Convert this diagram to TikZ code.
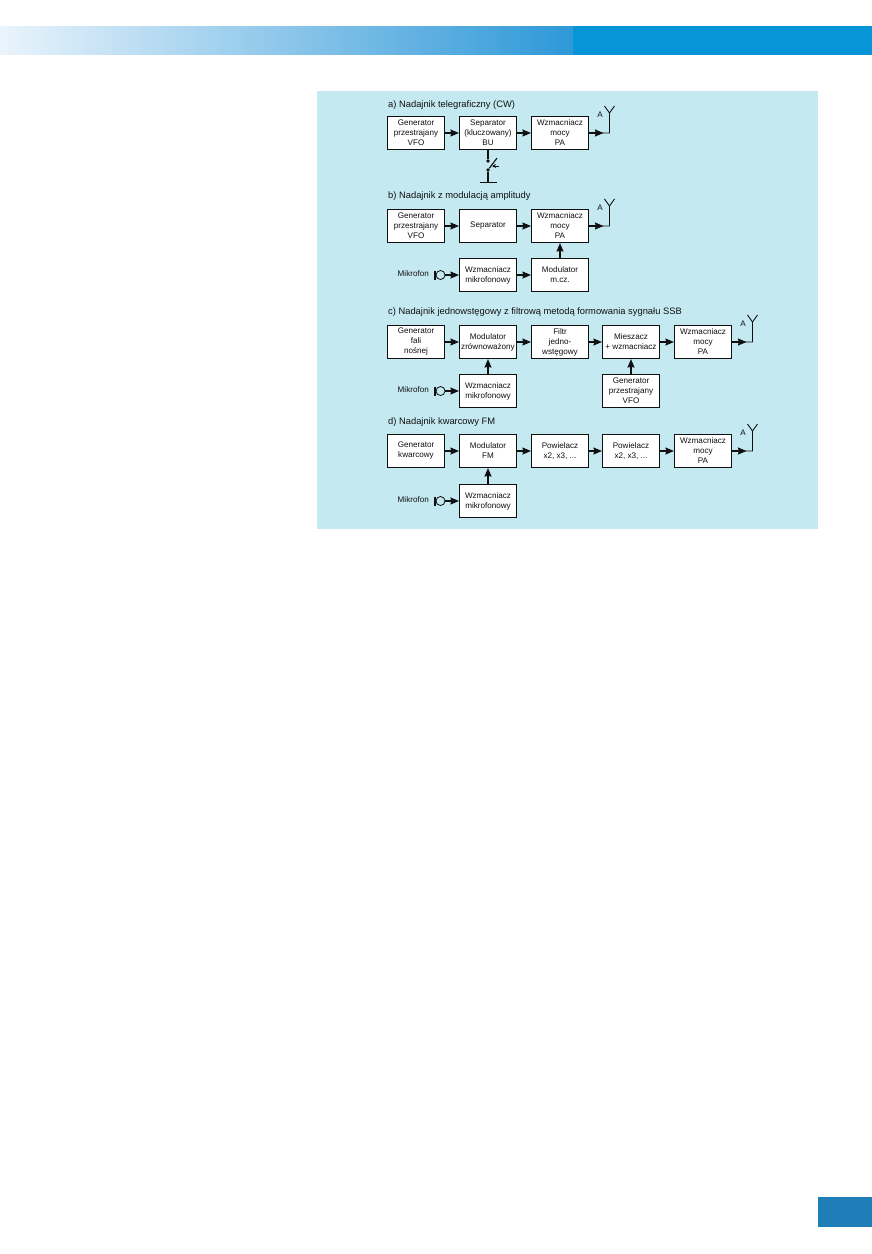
\documentclass[tikz,border=0pt]{standalone}
\usepackage{fontspec}
\setmainfont{Liberation Sans}
\usetikzlibrary{arrows.meta,positioning,calc}
\definecolor{ink}     {HTML}{101010}
\definecolor{panel}   {HTML}{C5E9F1}
\definecolor{bandpale}{HTML}{EAF4FC}
\definecolor{bandmid} {HTML}{A0C6EA}
\definecolor{bandend} {HTML}{2E98D8}
\definecolor{bandfull}{HTML}{0795D8}
\definecolor{corner}  {HTML}{1F7EB7}
\tikzset{
  % --- nodes
  blok/.style  = {draw=ink, fill=white, align=center, line width=1.1pt, inner sep=0pt,
                  minimum width=57pt, minimum height=33pt, text=ink,
                  font=\fontsize{8.1}{10}\selectfont},
  tytul/.style = {anchor=west, inner sep=0pt, text=ink, font=\fontsize{9.35}{11}\selectfont},
  opis/.style  = {inner sep=0pt, text=ink, font=\fontsize{8.1}{10}\selectfont},
  mik/.style   = {circle, draw=ink, line width=0.8pt, fill=panel, inner sep=0pt, minimum size=9pt},
  styk/.style  = {circle, fill=ink, inner sep=0pt, minimum size=3.8pt},
  % --- edges
  sig/.style   = {-{Stealth[length=8.5pt,width=7pt,inset=0.8pt]}, line width=1.1pt, draw=ink},
  wire/.style  = {line width=1.1pt, draw=ink},
  ant/.style   = {line width=0.9pt, draw=ink},
  bar/.style   = {line width=2pt, draw=ink},
}
\begin{document}
\begin{tikzpicture}[x=1pt,y=-1pt]
  \useasboundingbox (0,0) rectangle (872,1254);
  % --- page
  \shade[left color=bandpale, middle color=bandmid, right color=bandend] (0,26) rectangle (573,54.7);
  \fill[bandfull] (573,26) rectangle (872,55);
  \fill[corner] (818,1197) rectangle (872,1227);
  \fill[panel] (317,91) rectangle (818,529);

  % --- a
  \node[tytul] (ta) at (388,105) {a) Nadajnik telegraficzny (CW)};
  \node[blok] (a1) at (416,133) {Generator\\przestrajany\\VFO};
  \node[blok] (a2) at (488,133) {Separator\\(kluczowany)\\BU};
  \node[blok] (a3) at (560,133) {Wzmacniacz\\mocy\\PA};
  \draw[sig] (a1) -- (a2);
  \draw[sig] (a2) -- (a3);
  \coordinate (aj) at (609.5,133);
  \draw[sig] (a3) -- ($(aj)+(-6,0)$);
  \draw[ant] (a3) -- (aj) -- ++(0,-20) coordinate (af) -- ++(-5,-7);
  \draw[ant] (af) -- ++(5,-7);
  \node[opis] (aa) at (600,115) {A};
  \node[styk] (s1) at (488,161) {};
  \node[styk] (s2) at (488,170) {};
  \coordinate (sg) at (488,182.5);
  \draw[wire] (a2) -- (s1);
  \draw[wire] (s2) -- (sg);
  \draw[wire] ($(sg)+(-8.5,0)$) -- ($(sg)+(8.5,0)$);
  \draw[wire] (s2) -- (497,158);
  \draw[-{Stealth[length=4pt,width=4pt]},line width=0.8pt,draw=ink] (499,166) -- (492,166);

  % --- b
  \node[tytul] (tb) at (388,196) {b) Nadajnik z modulacją amplitudy};
  \node[blok] (b1) at (416,226) {Generator\\przestrajany\\VFO};
  \node[blok] (b2) at (488,226) {Separator};
  \node[blok] (b3) at (560,226) {Wzmacniacz\\mocy\\PA};
  \node[blok] (b4) at (488,275) {Wzmacniacz\\mikrofonowy};
  \node[blok] (b5) at (560,275) {Modulator\\m.cz.};
  \draw[sig] (b1) -- (b2);
  \draw[sig] (b2) -- (b3);
  \draw[sig] (b4) -- (b5);
  \draw[sig] (b5) -- (b3);
  \coordinate (bj) at (609.5,226);
  \draw[sig] (b3) -- ($(bj)+(-6,0)$);
  \draw[ant] (b3) -- (bj) -- ++(0,-20) coordinate (bf) -- ++(-5,-7);
  \draw[ant] (bf) -- ++(5,-7);
  \node[opis] (ba) at (600,208) {A};
  \node[mik] (bm) at (440.5,275) {};
  \draw[bar] ($(bm)+(-5.5,-4.5)$) -- ($(bm)+(-5.5,4.5)$);
  \node[opis,anchor=east] (bl) at (429,274) {Mikrofon};
  \draw[sig] (bm) -- (b4);

  % --- c
  \node[tytul] (tc) at (388,312) {c) Nadajnik jednowstęgowy z filtrową metodą formowania sygnału SSB};
  \node[blok] (c1) at (416,342) {Generator\\fali\\nośnej};
  \node[blok] (c2) at (488,342) {Modulator\\zrównoważony};
  \node[blok] (c3) at (560,342) {Filtr\\jedno-\\wstęgowy};
  \node[blok] (c4) at (631,342) {Mieszacz\\+ wzmacniacz};
  \node[blok] (c5) at (703,342) {Wzmacniacz\\mocy\\PA};
  \node[blok] (c6) at (488,391) {Wzmacniacz\\mikrofonowy};
  \node[blok] (c7) at (631,391) {Generator\\przestrajany\\VFO};
  \draw[sig] (c1) -- (c2);
  \draw[sig] (c2) -- (c3);
  \draw[sig] (c3) -- (c4);
  \draw[sig] (c4) -- (c5);
  \draw[sig] (c6) -- (c2);
  \draw[sig] (c7) -- (c4);
  \coordinate (cj) at (752.5,342);
  \draw[sig] (c5) -- ($(cj)+(-6,0)$);
  \draw[ant] (c5) -- (cj) -- ++(0,-20) coordinate (cf) -- ++(-5,-7);
  \draw[ant] (cf) -- ++(5,-7);
  \node[opis] (ca) at (743,324) {A};
  \node[mik] (cm) at (440.5,391) {};
  \draw[bar] ($(cm)+(-5.5,-4.5)$) -- ($(cm)+(-5.5,4.5)$);
  \node[opis,anchor=east] (cl) at (429,390) {Mikrofon};
  \draw[sig] (cm) -- (c6);

  % --- d
  \node[tytul] (td) at (388,422) {d) Nadajnik kwarcowy FM};
  \node[blok] (d1) at (416,451) {Generator\\kwarcowy};
  \node[blok] (d2) at (488,451) {Modulator\\FM};
  \node[blok] (d3) at (560,451) {Powielacz\\x2, x3, ...};
  \node[blok] (d4) at (631,451) {Powielacz\\x2, x3, ...};
  \node[blok] (d5) at (703,451) {Wzmacniacz\\mocy\\PA};
  \node[blok] (d6) at (488,501) {Wzmacniacz\\mikrofonowy};
  \draw[sig] (d1) -- (d2);
  \draw[sig] (d2) -- (d3);
  \draw[sig] (d3) -- (d4);
  \draw[sig] (d4) -- (d5);
  \draw[sig] (d6) -- (d2);
  \coordinate (dj) at (752.5,451);
  \draw[sig] (d5) -- ($(dj)+(-6,0)$);
  \draw[ant] (d5) -- (dj) -- ++(0,-20) coordinate (df) -- ++(-5,-7);
  \draw[ant] (df) -- ++(5,-7);
  \node[opis] (da) at (743,433) {A};
  \node[mik] (dm) at (440.5,501) {};
  \draw[bar] ($(dm)+(-5.5,-4.5)$) -- ($(dm)+(-5.5,4.5)$);
  \node[opis,anchor=east] (dl) at (429,500) {Mikrofon};
  \draw[sig] (dm) -- (d6);
\end{tikzpicture}
\end{document}
